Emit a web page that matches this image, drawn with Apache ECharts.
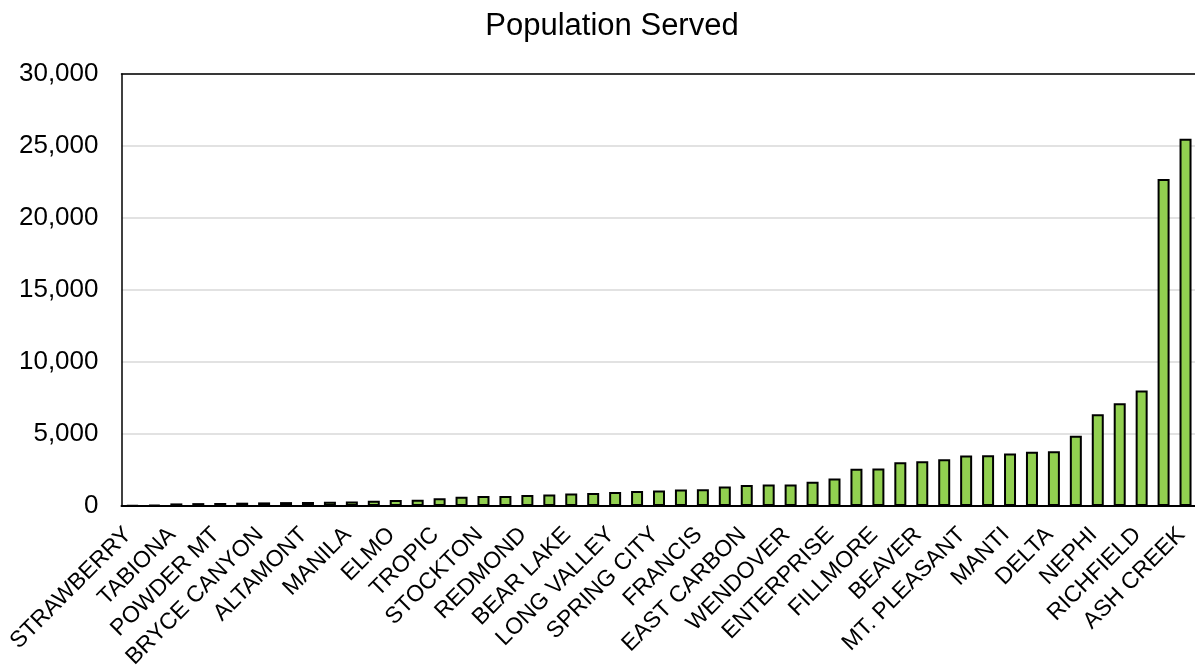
<!DOCTYPE html>
<html>
<head>
<meta charset="utf-8">
<script src="https://cdn.jsdelivr.net/npm/echarts@6/dist/echarts.min.js"></script>
<style>
  html, body { margin: 0; padding: 0; background: #fff; }
  #chart { width: 1195px; height: 670px; }
</style>
</head>
<body>
<div id="chart"></div>
<script>
// Categories (only every other bar is labelled in the source chart)
const categories = [
  'STRAWBERRY', '', 'TABIONA', '', 'POWDER MT', '', 'BRYCE CANYON', '', 'ALTAMONT', '',
  'MANILA', '', 'ELMO', '', 'TROPIC', '', 'STOCKTON', '', 'REDMOND', '',
  'BEAR LAKE', '', 'LONG VALLEY', '', 'SPRING CITY', '', 'FRANCIS', '', 'EAST CARBON', '',
  'WENDOVER', '', 'ENTERPRISE', '', 'FILLMORE', '', 'BEAVER', '', 'MT. PLEASANT', '',
  'MANTI', '', 'DELTA', '', 'NEPHI', '', 'RICHFIELD', '', 'ASH CREEK'
];

// Population served
const population = [
  50, 80, 180, 200, 210, 230, 250, 270, 280, 300,
  320, 370, 410, 440, 530, 640, 700, 700, 760, 800,
  870, 900, 970, 1040, 1080, 1150, 1160, 1360, 1450, 1500,
  1500, 1680, 1910, 2580, 2600, 3040, 3110, 3250, 3500, 3530,
  3640, 3760, 3800, 4880, 6380, 7140, 8020, 22700, 25500
];

const yTicks = [0, 5000, 10000, 15000, 20000, 25000, 30000];
const titleText = 'Population Served';

const FONT = '"Liberation Sans", Arial, sans-serif';

const chart = echarts.init(document.getElementById('chart'), null, { renderer: 'canvas' });
chart.setOption({
  animation: false,
  backgroundColor: '#ffffff',
  title: {
    text: titleText,
    left: 607,
    top: 6,
    textAlign: 'center',
    textStyle: { fontFamily: FONT, fontSize: 31, fontWeight: 'normal', color: '#000' }
  },
  grid: {
    left: 121.5,
    top: 74,
    width: 1075,
    height: 432,
    containLabel: false,
    outerBoundsMode: 'none'
  },
  xAxis: [{
    type: 'category',
    data: categories,
    axisLine: { show: true, lineStyle: { color: '#000', width: 2 } },
    axisTick: { show: false },
    axisLabel: {
      interval: 0,
      rotate: 45,
      margin: 21,
      padding: [0, 6, 0, 0],
      fontFamily: FONT,
      fontSize: 23,
      color: '#000'
    }
  }, {
    type: 'category',
    position: 'top',
    data: categories,
    axisLine: { show: true, lineStyle: { color: '#000', width: 1.5 } },
    axisTick: { show: false },
    axisLabel: { show: false },
    splitLine: { show: false }
  }],
  yAxis: {
    type: 'value',
    min: yTicks[0],
    max: yTicks[yTicks.length - 1],
    interval: yTicks[1] - yTicks[0],
    axisLine: { show: true, lineStyle: { color: '#000', width: 1.5 } },
    axisTick: { show: false },
    splitLine: { show: true, lineStyle: { color: '#d9d9d9', width: 1.5 } },
    axisLabel: {
      margin: 23,
      fontFamily: FONT,
      fontSize: 26,
      color: '#000',
      formatter: v => v.toLocaleString('en-US')
    }
  },
  series: [{
    type: 'bar',
    data: population,
    barWidth: 12,
    itemStyle: { color: '#92D050', borderColor: '#000', borderWidth: 2 }
  }]
});
</script>
</body>
</html>
